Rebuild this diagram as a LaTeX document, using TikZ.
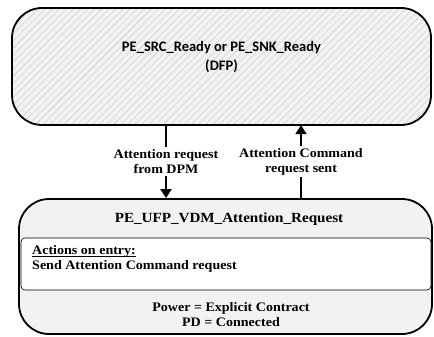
\documentclass[tikz,border=0pt]{standalone}
\usepackage{fontspec}
\setmainfont{Liberation Serif}[FakeStretch=1.08]
\newfontfamily\calfont{Carlito}
\newcommand{\undl}[1]{\setbox0\hbox{#1}\rlap{\raisebox{-2.2pt}{\rule{\wd0}{0.7pt}}}\box0}
\usetikzlibrary{arrows.meta,patterns.meta}
\tikzset{
  st/.style={draw=black, line width=1.8pt, rounded corners=30pt},
  rdybox/.style={st, preaction={fill=gray!10}, pattern={Lines[angle=45,distance=5pt,line width=0.4pt]}, pattern color=gray!45, minimum width=419pt, minimum height=117pt},
  attbox/.style={st, fill=gray!10, minimum width=413pt, minimum height=135pt},
  inr/.style={draw=black, line width=0.6pt, fill=white, rounded corners=4pt, minimum width=410pt, minimum height=52pt},
  ttl/.style={font=\calfont\bfseries\fontsize{14.5}{19}\selectfont, align=center},
  hd/.style={font=\bfseries\fontsize{14}{16}\selectfont},
  txt/.style={font=\bfseries\fontsize{13}{15.5}\selectfont, align=center},
  lbl/.style={txt, fill=white, inner sep=2pt},
  arr/.style={-{Triangle[length=9pt,width=11pt]}, line width=2pt},
}
\begin{document}
\begin{tikzpicture}[x=1pt, y=-1pt]
  \useasboundingbox (0,0) rectangle (434,337);
  \node[rdybox] (rdy) at (221.5,66.5) {};
  \node[ttl] (rdyt) at (221.5,57) {PE\_SRC\_Ready or PE\_SNK\_Ready\\(DFP)};
  \node[attbox] (att) at (225.5,266.5) {};
  \node[hd] (attt) at (229,219) {PE\_UFP\_VDM\_Attention\_Request};
  \node[inr] (act) at (226,264) {};
  \node[txt, anchor=west, inner sep=0pt] (actt) at (32,251) {\undl{Actions on entry:}};
  \node[txt, anchor=west, inner sep=0pt] (acts) at (32,266) {Send Attention Command request};
  \node[txt] (cond) at (231,314.5) {Power = Explicit Contract\\PD = Connected};
  \coordinate (dn) at (166,0);
  \coordinate (up) at (301,0);
  \draw[arr] (rdy.south -| dn) -- node[lbl]{Attention request\\from DPM} (att.north -| dn);
  \draw[arr] (att.north -| up) -- node[lbl]{Attention Command\\request sent} (rdy.south -| up);
\end{tikzpicture}
\end{document}
